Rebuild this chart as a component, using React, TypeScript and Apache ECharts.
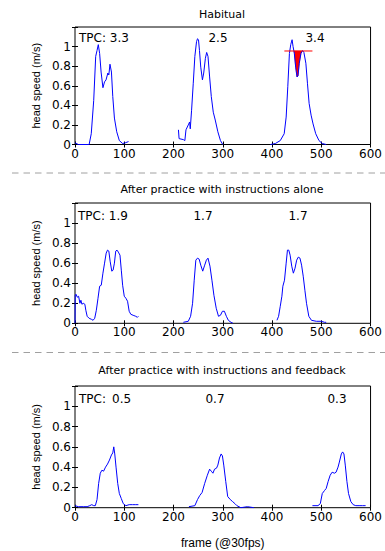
import React, { useEffect, useRef } from "react";
import * as echarts from "echarts";

// ---------- data: [frame, head speed (m/s)] ----------
const habitual1: number[][] = [
  [0, 0.017], [6.7, 0.0], [28.7, 0], [33, 0.11], [38, 0.45], [42, 0.9], [44.7, 0.96], [47.3, 1.02],
  [50, 0.93], [53, 0.74], [56.7, 0.58], [60, 0.64], [63, 0.66], [66.7, 0.73], [68.7, 0.71], [71, 0.82],
  [74, 0.74], [76.7, 0.49], [80, 0.27], [84.7, 0.13], [90, 0.04], [96.7, 0.01], [102, 0.017], [108.7, 0.03],
];
const habitual2: number[][] = [
  [210, 0.15], [211.3, 0.06], [220, 0.05], [223, 0.04], [225.3, 0.15], [230, 0.2], [232.7, 0.23], [234, 0.16],
  [236.7, 0.35], [240, 0.62], [243.3, 0.9], [246.7, 1.05], [248.7, 1.08], [250.7, 1.07], [252.7, 0.96],
  [255.3, 0.79], [258.7, 0.66], [261.3, 0.73], [264.7, 0.88], [267.3, 0.94], [270, 0.9], [273.3, 0.69],
  [276.7, 0.49], [280.7, 0.33], [284.7, 0.25], [290, 0.13], [295.3, 0.04], [300, 0.0],
];
const habitual3: number[][] = [
  [396.7, 0], [406.7, 0.01], [416.7, 0.04], [424.7, 0.11], [428.7, 0.28], [432, 0.59], [435.3, 0.93],
  [438, 1.02], [440.7, 1.07], [442.7, 1.0], [445.3, 0.93], [448, 0.79], [450.7, 0.69], [452.7, 0.7],
  [455.3, 0.83], [458.7, 0.93], [462, 0.96], [464.7, 0.94], [468.7, 0.83], [472, 0.62], [475.3, 0.42],
  [479.3, 0.3], [483.3, 0.21], [488.7, 0.11], [495.3, 0.04], [502, 0.01], [510, 0],
];
const alone1: number[][] = [
  [0, 0], [0.5, 0.28], [2, 0.29], [4.7, 0.26], [7.3, 0.27], [10, 0.2], [12, 0.23], [14, 0.19], [16.7, 0.2],
  [20, 0.19], [22, 0.13], [24.7, 0.07], [28.7, 0.05], [33.3, 0.04], [36.7, 0.03], [40, 0.05], [43.3, 0.13],
  [46.7, 0.25], [50, 0.37], [53.3, 0.38], [56.7, 0.5], [60, 0.6], [63.3, 0.7], [66, 0.73], [68.7, 0.72],
  [71.3, 0.62], [74.7, 0.52], [77.3, 0.53], [80, 0.6], [82.7, 0.72], [85.3, 0.73], [88, 0.71], [91.3, 0.68],
  [94, 0.53], [96.7, 0.38], [100, 0.27], [103.3, 0.25], [106.7, 0.22], [110, 0.12], [113.3, 0.09],
  [118, 0.08], [123.3, 0.07], [126.7, 0.06], [128.7, 0.07],
];
const alone2: number[][] = [
  [220, 0.01], [230, 0.02], [234.7, 0.07], [238.7, 0.2], [242, 0.43], [245.3, 0.63], [248.7, 0.65],
  [252, 0.64], [255.3, 0.58], [259.3, 0.52], [263.3, 0.58], [266.7, 0.63], [270, 0.65], [274, 0.57],
  [278, 0.43], [282, 0.28], [286.7, 0.15], [291.3, 0.07], [295.3, 0.08], [299.3, 0.12], [303.3, 0.12],
  [307.3, 0.07], [311.3, 0.03], [316.7, 0.01], [320.7, 0],
];
const alone3: number[][] = [
  [410, 0.03], [413.3, 0.07], [416.7, 0.17], [420, 0.27], [422, 0.37], [425.3, 0.43], [428.7, 0.6],
  [431.3, 0.73], [434, 0.73], [436.7, 0.68], [440, 0.57], [443.3, 0.5], [446.7, 0.55], [450, 0.63],
  [453.3, 0.66], [456.7, 0.65], [460, 0.58], [463.3, 0.47], [466.7, 0.33], [470, 0.2], [474.7, 0.07],
  [480, 0.03], [490, 0.02], [500, 0.02], [506.7, 0.01], [510, 0.01],
];
const feedback1: number[][] = [
  [0, 0.02], [6.7, 0.01], [16.7, 0.01], [24.7, 0.01], [30, 0.02], [34, 0.03], [38, 0.02], [41.3, 0.02],
  [44.7, 0.08], [48, 0.24], [51.3, 0.34], [54.7, 0.37], [58, 0.36], [62, 0.4], [66, 0.43], [70, 0.47],
  [74, 0.52], [76.7, 0.54], [78.7, 0.6], [80.7, 0.53], [83.3, 0.4], [86.7, 0.24], [90, 0.14], [94, 0.09],
  [98, 0.04], [103.3, 0.02], [110, 0.03], [116.7, 0.03], [123.3, 0.03], [128.7, 0.03],
];
const feedback2: number[][] = [
  [231.3, 0.01], [243.3, 0.02], [248.7, 0.08], [253.3, 0.12], [258, 0.15], [263.3, 0.24], [268.7, 0.32],
  [273.3, 0.38], [276.7, 0.36], [280, 0.34], [283.3, 0.38], [287.3, 0.39], [290, 0.42], [293.3, 0.49],
  [296.7, 0.53], [299.3, 0.51], [302, 0.42], [306, 0.26], [310, 0.11], [315.3, 0.08], [320, 0.06],
  [324.7, 0.04], [328.7, 0.02], [336.7, 0], [350, 0.01], [363.3, 0],
];
const feedback3: number[][] = [
  [482, 0.02], [493.3, 0.02], [498, 0.04], [502, 0.14], [506.7, 0.17], [510, 0.19], [514, 0.26],
  [518, 0.32], [522, 0.35], [526.7, 0.34], [530, 0.35], [534, 0.4], [536.7, 0.45], [540.7, 0.53],
  [543.3, 0.55], [546, 0.53], [548.7, 0.42], [552, 0.26], [555.3, 0.14], [560, 0.06], [564.7, 0.03],
  [570, 0.02], [576.7, 0.02], [583.3, 0.02], [590, 0.02],
];

// red threshold marking on the third habitual trial
const redLevel = 0.955;
const redLineRange = [425, 482];
const redFillRange = [444.5, 461];

const panelTitles = [
  "Habitual",
  "After practice with instructions alone",
  "After practice with instructions and feedback",
];
const tpcValues = [
  ["3.3", "2.5", "3.4"],
  ["1.9", "1.7", "1.7"],
  ["0.5", "0.7", "0.3"],
];
const xTicks = { min: 0, max: 600, interval: 100 };
const yTicks = { min: 0, max: 1.2, interval: 0.2 };
const yAxisName = "head speed (m/s)";
const xAxisName = "frame (@30fps)";

// ---------- layout ----------
const W = 385;
const H = 551;
const grids = [
  { left: 75, right: 10, top: 27, height: 117.5 },
  { left: 75, right: 10, top: 203, height: 120.3 },
  { left: 75, right: 10, top: 386, height: 121.7 },
];
const titleY = [14, 189, 370];
const tpcY = [38, 216, 399];
const tpcX = [[79, 218, 315], [78, 203, 298], [79, 215, 337]];
const separatorsY = [173, 352.5];

const TICK_FONT = "'DejaVu Sans', Verdana, sans-serif";
const NAME_FONT = "'Liberation Sans', Arial, sans-serif";

export default function App() {
  const ref = useRef<HTMLDivElement>(null);

  useEffect(() => {
    if (!ref.current) return;
    const chart = echarts.init(ref.current, undefined, { renderer: "svg" });

    const xAxis: any[] = [];
    const yAxis: any[] = [];
    grids.forEach((_, g) => {
      const last = g === grids.length - 1;
      xAxis.push({
        gridIndex: g,
        type: "value",
        position: "bottom",
        ...xTicks,
        axisLine: { show: false },
        axisTick: { show: true, inside: true, length: 3, lineStyle: { color: "#000" } },
        axisLabel: { color: "#000", fontSize: 12, fontFamily: TICK_FONT, margin: 3 },
        splitLine: { show: false },
        name: last ? xAxisName : "",
        nameLocation: "middle",
        nameGap: 29,
        nameTextStyle: { color: "#000", fontSize: 12, fontFamily: NAME_FONT },
      });
      xAxis.push({
        gridIndex: g,
        type: "value",
        position: "top",
        ...xTicks,
        axisLine: { show: false },
        axisTick: { show: true, inside: true, length: 3, lineStyle: { color: "#000" } },
        axisLabel: { show: false },
        splitLine: { show: false },
      });
      yAxis.push({
        gridIndex: g,
        type: "value",
        position: "left",
        ...yTicks,
        axisLine: { show: false },
        axisTick: { show: true, inside: true, length: 3, lineStyle: { color: "#000" } },
        axisLabel: {
          color: "#000",
          fontSize: 12,
          fontFamily: TICK_FONT,
          margin: 4,
          formatter: (v: number) => (v > 1.1 ? "" : String(+v.toFixed(1))),
        },
        splitLine: { show: false },
        name: yAxisName,
        nameLocation: "middle",
        nameRotate: 90,
        nameGap: 29,
        nameTextStyle: { color: "#000", fontSize: 11, fontFamily: NAME_FONT },
      });
      yAxis.push({
        gridIndex: g,
        type: "value",
        position: "right",
        ...yTicks,
        axisLine: { show: false },
        axisTick: { show: true, inside: true, length: 3, lineStyle: { color: "#000" } },
        axisLabel: { show: false },
        splitLine: { show: false },
      });
    });

    const curves = [
      [habitual1, habitual2, habitual3],
      [alone1, alone2, alone3],
      [feedback1, feedback2, feedback3],
    ];
    const series: any[] = [];
    curves.forEach((set, g) => {
      set.forEach((data) => {
        series.push({
          type: "line",
          xAxisIndex: 2 * g,
          yAxisIndex: 2 * g,
          data,
          showSymbol: false,
          symbol: "none",
          lineStyle: { color: "#0000ff", width: 1 },
          itemStyle: { color: "#0000ff" },
          silent: true,
        });
      });
    });

    const fillPoints = [
      [redFillRange[0], redLevel],
      ...habitual3.filter((p) => p[0] > redFillRange[0] && p[0] < redFillRange[1]),
      [redFillRange[1], redLevel],
    ];
    series.push({
      type: "custom",
      xAxisIndex: 0,
      yAxisIndex: 0,
      data: [[redFillRange[0], redLevel]],
      renderItem: (_params: any, api: any) => ({
        type: "polygon",
        shape: { points: fillPoints.map((p) => api.coord(p)) },
        style: { fill: "#ff0000", stroke: "#ff0000", lineWidth: 0.5 },
      }),
      silent: true,
    });
    series.push({
      type: "line",
      xAxisIndex: 0,
      yAxisIndex: 0,
      data: [
        [redLineRange[0], redLevel],
        [redLineRange[1], redLevel],
      ],
      showSymbol: false,
      symbol: "none",
      lineStyle: { color: "#ff0000", width: 1 },
      silent: true,
    });

    const graphic: any[] = [];
    separatorsY.forEach((y) => {
      graphic.push({
        type: "line",
        shape: { x1: 12, y1: y, x2: W, y2: y },
        style: { stroke: "#a0a0a0", lineWidth: 1, lineDash: [6.5, 5] },
        silent: true,
      });
    });
    panelTitles.forEach((t, g) => {
      graphic.push({
        type: "text",
        x: 222,
        y: titleY[g],
        style: {
          text: t,
          fill: "#000",
          fontSize: 11,
          fontFamily: TICK_FONT,
          align: "center",
          verticalAlign: "middle",
        },
      });
    });
    tpcValues.forEach((vals, g) => {
      vals.forEach((v, i) => {
        if (i === 0) {
          graphic.push({
            type: "text",
            x: tpcX[g][0],
            y: tpcY[g],
            style: {
              text: g === 2 ? "TPC:" : "TPC: " + v,
              fill: "#000",
              fontSize: 12,
              fontFamily: TICK_FONT,
              align: "left",
              verticalAlign: "middle",
            },
          });
          if (g === 2) {
            graphic.push({
              type: "text",
              x: 112,
              y: tpcY[g],
              style: {
                text: v,
                fill: "#000",
                fontSize: 12,
                fontFamily: TICK_FONT,
                align: "left",
                verticalAlign: "middle",
              },
            });
          }
        } else {
          graphic.push({
            type: "text",
            x: tpcX[g][i],
            y: tpcY[g],
            style: {
              text: v,
              fill: "#000",
              fontSize: 12,
              fontFamily: TICK_FONT,
              align: "center",
              verticalAlign: "middle",
            },
          });
        }
      });
    });

    chart.setOption({
      animation: false,
      backgroundColor: "#ffffff",
      grid: grids.map((g) => ({
        ...g,
        show: true,
        borderColor: "#000",
        borderWidth: 1,
        backgroundColor: "transparent",
      })),
      xAxis,
      yAxis,
      series,
      graphic,
    });

    return () => chart.dispose();
  }, []);

  return (
    <div
      ref={ref}
      style={{ position: "absolute", left: 0, top: 0, width: W, height: H, background: "#fff" }}
    />
  );
}
